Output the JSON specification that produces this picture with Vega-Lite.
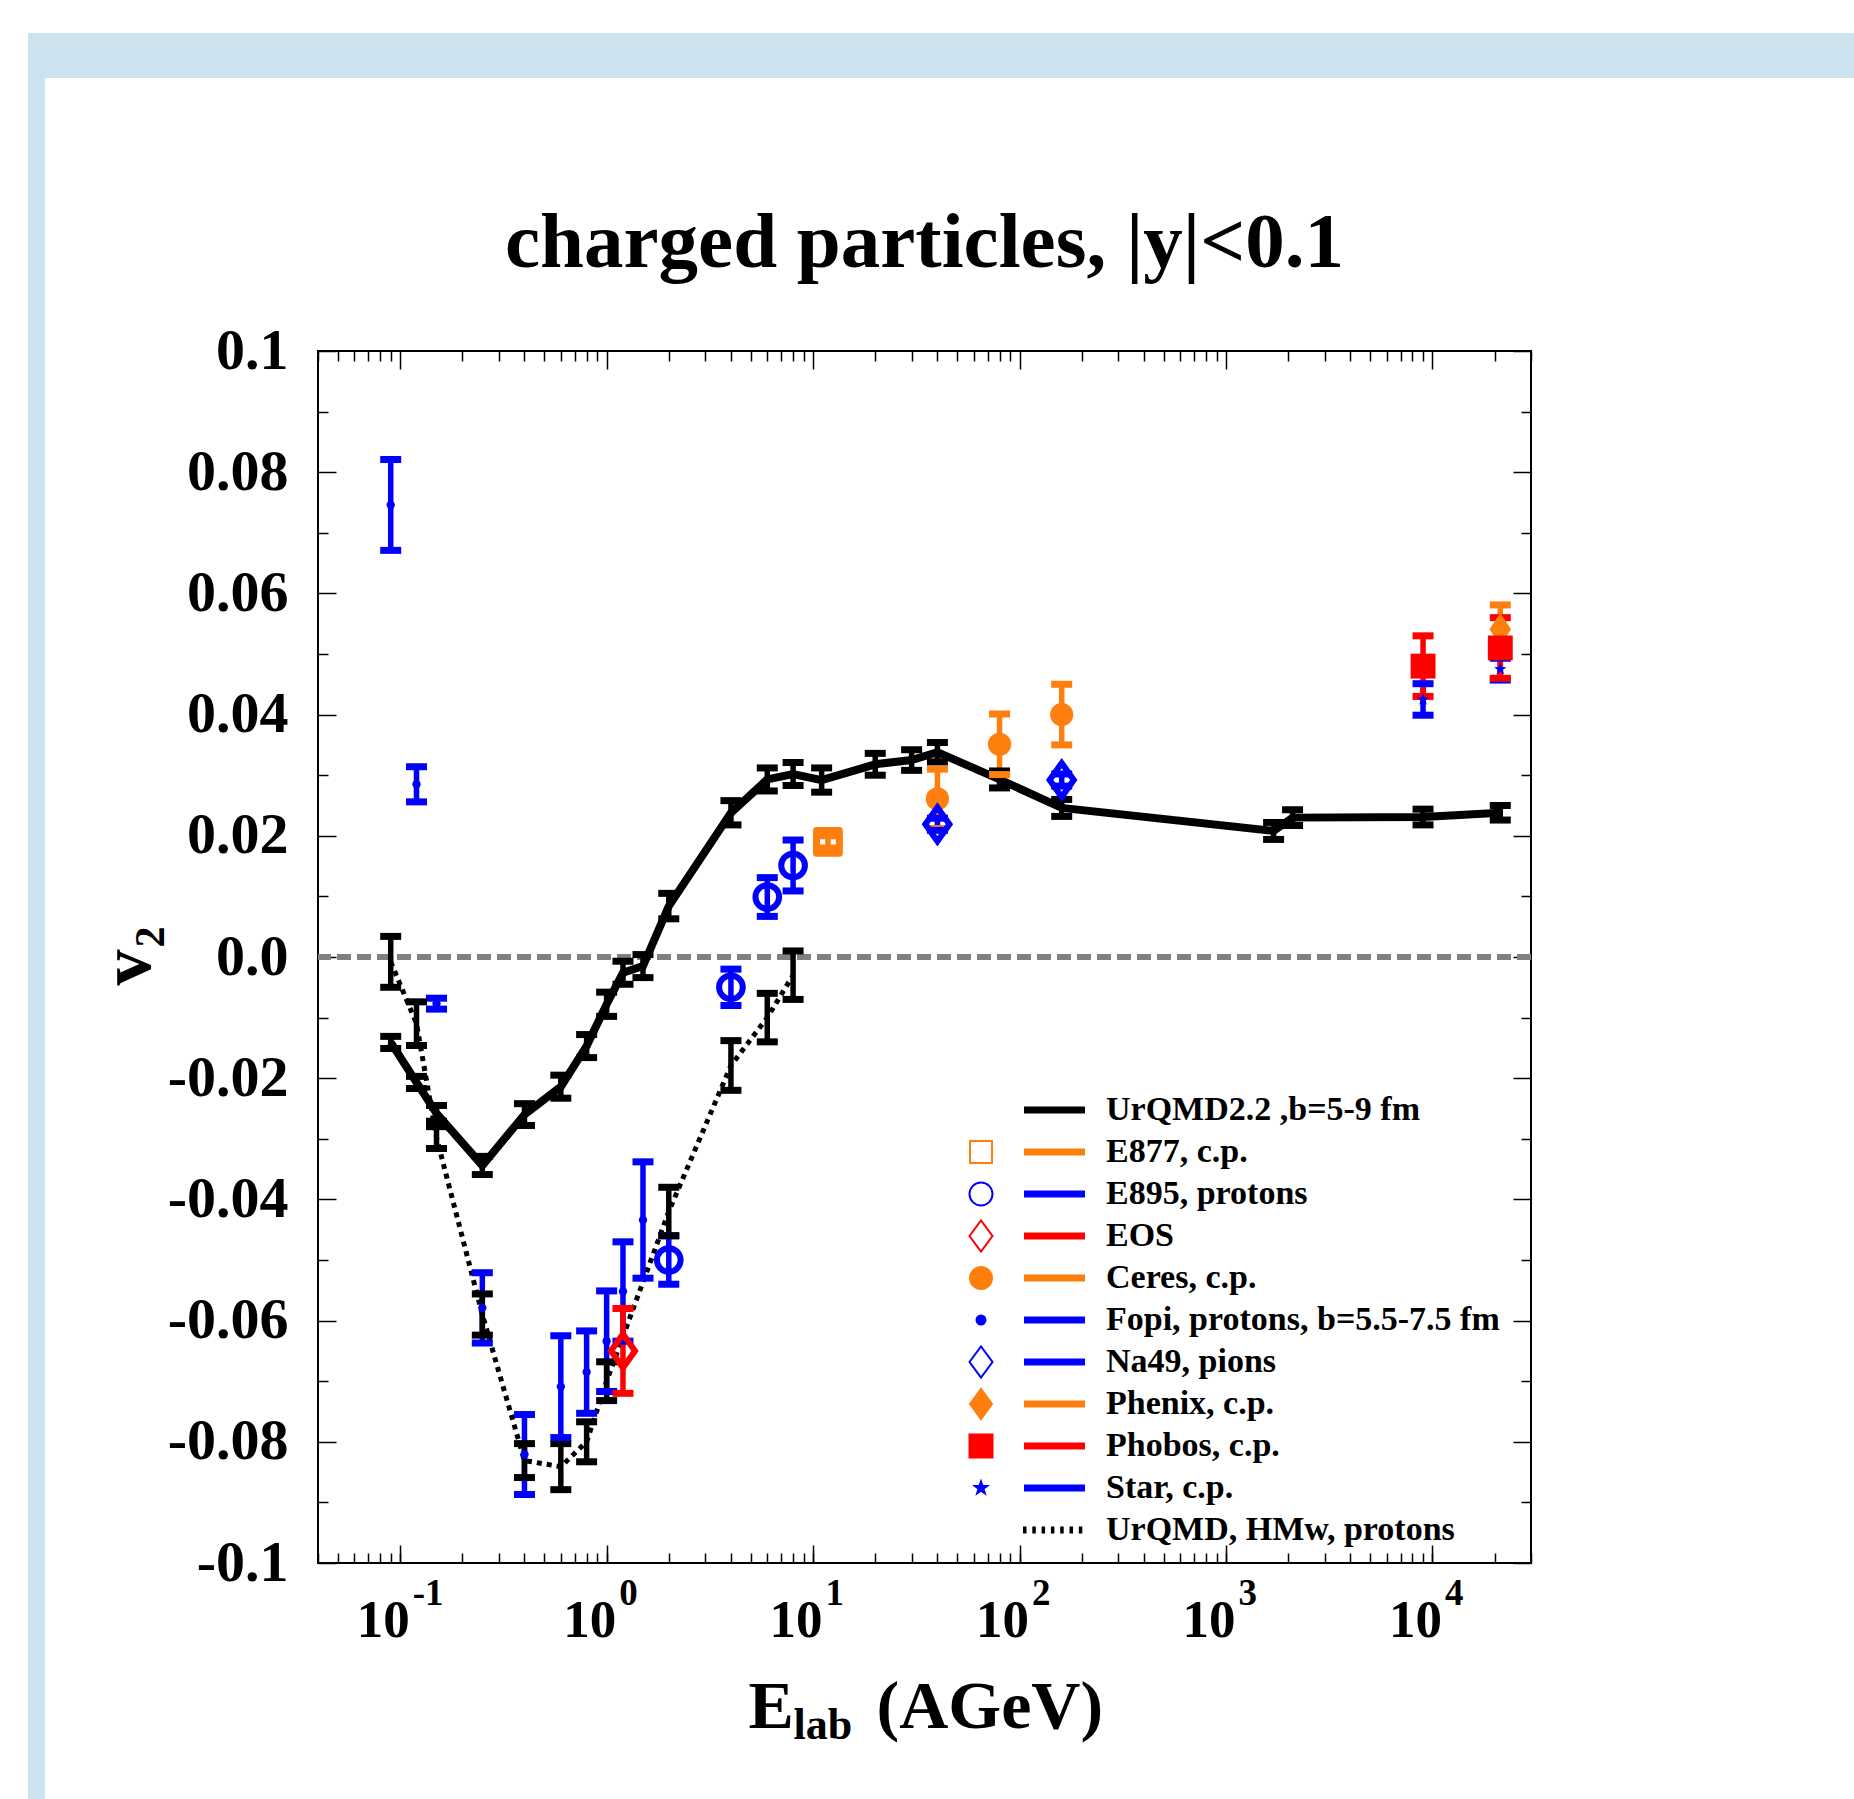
{
  "$schema": "https://vega.github.io/schema/vega-lite/v6.json",
  "background": "white",
  "padding": {"left": 28, "top": 33, "right": 0, "bottom": 0},
  "spacing": -1721,
  "align": "none",
  "resolve": {"scale": {"color": "independent", "fill": "independent", "stroke": "independent", "shape": "independent", "opacity": "independent"}},
  "config": {
    "view": {"stroke": null},
    "axis": {"grid": false, "domain": false, "tickColor": "black", "tickWidth": 1.5, "labelColor": "black", "titleColor": "black", "labelFont": "Liberation Serif", "titleFont": "Liberation Serif", "labelFontWeight": "bold", "titleFontWeight": "bold", "labelOverlap": false, "labelFlush": false, "titlePadding": 0}
  },
  "vconcat": [
    {
      "spacing": 0,
      "hconcat": [
        {"width": 17, "height": 1766, "data": {"values": []}, "mark": "point", "view": {"fill": "#cde2ef", "stroke": null}},
        {"width": 1809, "height": 45, "data": {"values": []}, "mark": "point", "view": {"fill": "#cde2ef", "stroke": null}}
      ]
    },
    {
      "spacing": 0,
      "resolve": {"scale": {"color": "independent", "fill": "independent", "stroke": "independent", "shape": "independent", "opacity": "independent"}},
      "hconcat": [
        {"width": 17, "height": 1, "data": {"values": []}, "mark": "point", "view": {"stroke": null}},
        {
          "width": 1213,
          "height": 1212,
          "view": {"fill": "white", "stroke": "black", "strokeWidth": 2},
          "title": {"text": "charged particles, |y|<0.1", "font": "Liberation Serif", "fontSize": 79, "fontWeight": "bold", "color": "black", "anchor": "middle", "frame": "group", "baseline": "alphabetic", "offset": -267},
          "data": {"values": [
            {"s": "Fopi, protons, b=5.5-7.5 fm", "E": 0.09, "v": 0.0746, "lo": 0.0671, "hi": 0.0821},
            {"s": "Fopi, protons, b=5.5-7.5 fm", "E": 0.12, "v": 0.0285, "lo": 0.0256, "hi": 0.0314},
            {"s": "Fopi, protons, b=5.5-7.5 fm", "E": 0.15, "v": -0.0077, "lo": -0.0086, "hi": -0.0068},
            {"s": "Fopi, protons, b=5.5-7.5 fm", "E": 0.25, "v": -0.0579, "lo": -0.0637, "hi": -0.0521},
            {"s": "Fopi, protons, b=5.5-7.5 fm", "E": 0.4, "v": -0.0821, "lo": -0.0887, "hi": -0.0755},
            {"s": "Fopi, protons, b=5.5-7.5 fm", "E": 0.6, "v": -0.0709, "lo": -0.0793, "hi": -0.0625},
            {"s": "Fopi, protons, b=5.5-7.5 fm", "E": 0.8, "v": -0.0685, "lo": -0.0753, "hi": -0.0617},
            {"s": "Fopi, protons, b=5.5-7.5 fm", "E": 1.0, "v": -0.0634, "lo": -0.0717, "hi": -0.0551},
            {"s": "Fopi, protons, b=5.5-7.5 fm", "E": 1.2, "v": -0.0552, "lo": -0.0634, "hi": -0.047},
            {"s": "Fopi, protons, b=5.5-7.5 fm", "E": 1.5, "v": -0.0434, "lo": -0.053, "hi": -0.0338},
            {"s": "E895, protons", "E": 2, "v": -0.05, "lo": -0.054, "hi": -0.046},
            {"s": "E895, protons", "E": 4, "v": -0.005, "lo": -0.008, "hi": -0.002},
            {"s": "E895, protons", "E": 6, "v": 0.0099, "lo": 0.0067, "hi": 0.0131},
            {"s": "E895, protons", "E": 8, "v": 0.0151, "lo": 0.0109, "hi": 0.0193},
            {"s": "EOS", "E": 1.2, "v": -0.065, "lo": -0.072, "hi": -0.058},
            {"s": "E877, c.p.", "E": 11.8, "v": 0.019, "lo": 0.018, "hi": 0.02},
            {"s": "Ceres, c.p.", "E": 40, "v": 0.0261, "lo": 0.0212, "hi": 0.031},
            {"s": "Ceres, c.p.", "E": 80, "v": 0.0351, "lo": 0.0301, "hi": 0.0401},
            {"s": "Ceres, c.p.", "E": 160, "v": 0.04, "lo": 0.035, "hi": 0.045},
            {"s": "Na49, pions", "E": 40, "v": 0.0219, "lo": 0.0209, "hi": 0.0229},
            {"s": "Na49, pions", "E": 160, "v": 0.0292, "lo": 0.0282, "hi": 0.0302},
            {"s": "Star, c.p.", "E": 9000, "v": 0.0425, "lo": 0.0399, "hi": 0.0451},
            {"s": "Star, c.p.", "E": 21300, "v": 0.0475, "lo": 0.0457, "hi": 0.0493},
            {"s": "Phobos, c.p.", "E": 9000, "v": 0.048, "lo": 0.043, "hi": 0.053},
            {"s": "Phobos, c.p.", "E": 21300, "v": 0.051, "lo": 0.046, "hi": 0.056},
            {"s": "Phenix, c.p.", "E": 21300, "v": 0.0541, "lo": 0.0501, "hi": 0.0581},
            {"s": "UrQMD, HMw, protons", "E": 0.09, "v": -0.0008, "lo": -0.005, "hi": 0.0034},
            {"s": "UrQMD, HMw, protons", "E": 0.12, "v": -0.011, "lo": -0.0146, "hi": -0.0074},
            {"s": "UrQMD, HMw, protons", "E": 0.15, "v": -0.0298, "lo": -0.0316, "hi": -0.028},
            {"s": "UrQMD, HMw, protons", "E": 0.25, "v": -0.059, "lo": -0.0624, "hi": -0.0556},
            {"s": "UrQMD, HMw, protons", "E": 0.4, "v": -0.0831, "lo": -0.0859, "hi": -0.0803},
            {"s": "UrQMD, HMw, protons", "E": 0.6, "v": -0.0841, "lo": -0.0879, "hi": -0.0803},
            {"s": "UrQMD, HMw, protons", "E": 0.8, "v": -0.08, "lo": -0.0833, "hi": -0.0767},
            {"s": "UrQMD, HMw, protons", "E": 1.0, "v": -0.07, "lo": -0.0732, "hi": -0.0668},
            {"s": "UrQMD, HMw, protons", "E": 2.0, "v": -0.042, "lo": -0.046, "hi": -0.038},
            {"s": "UrQMD, HMw, protons", "E": 4.0, "v": -0.0179, "lo": -0.022, "hi": -0.0138},
            {"s": "UrQMD, HMw, protons", "E": 6.0, "v": -0.01, "lo": -0.014, "hi": -0.006},
            {"s": "UrQMD, HMw, protons", "E": 8.0, "v": -0.003, "lo": -0.007, "hi": 0.001},
            {"s": "UrQMD2.2 ,b=5-9 fm", "E": 0.09, "v": -0.0141, "lo": -0.0151, "hi": -0.0131},
            {"s": "UrQMD2.2 ,b=5-9 fm", "E": 0.12, "v": -0.0207, "lo": -0.0217, "hi": -0.0197},
            {"s": "UrQMD2.2 ,b=5-9 fm", "E": 0.15, "v": -0.0258, "lo": -0.0271, "hi": -0.0245},
            {"s": "UrQMD2.2 ,b=5-9 fm", "E": 0.25, "v": -0.0344, "lo": -0.0359, "hi": -0.0329},
            {"s": "UrQMD2.2 ,b=5-9 fm", "E": 0.4, "v": -0.026, "lo": -0.0278, "hi": -0.0242},
            {"s": "UrQMD2.2 ,b=5-9 fm", "E": 0.6, "v": -0.0214, "lo": -0.0233, "hi": -0.0195},
            {"s": "UrQMD2.2 ,b=5-9 fm", "E": 0.8, "v": -0.0147, "lo": -0.0166, "hi": -0.0128},
            {"s": "UrQMD2.2 ,b=5-9 fm", "E": 1.0, "v": -0.0078, "lo": -0.0098, "hi": -0.0058},
            {"s": "UrQMD2.2 ,b=5-9 fm", "E": 1.2, "v": -0.0026, "lo": -0.0045, "hi": -0.0007},
            {"s": "UrQMD2.2 ,b=5-9 fm", "E": 1.5, "v": -0.0015, "lo": -0.0034, "hi": 0.0004},
            {"s": "UrQMD2.2 ,b=5-9 fm", "E": 2.0, "v": 0.0084, "lo": 0.0063, "hi": 0.0105},
            {"s": "UrQMD2.2 ,b=5-9 fm", "E": 4.0, "v": 0.0238, "lo": 0.0218, "hi": 0.0258},
            {"s": "UrQMD2.2 ,b=5-9 fm", "E": 6.0, "v": 0.0293, "lo": 0.0274, "hi": 0.0312},
            {"s": "UrQMD2.2 ,b=5-9 fm", "E": 8.0, "v": 0.0302, "lo": 0.0283, "hi": 0.0321},
            {"s": "UrQMD2.2 ,b=5-9 fm", "E": 11, "v": 0.0292, "lo": 0.0272, "hi": 0.0312},
            {"s": "UrQMD2.2 ,b=5-9 fm", "E": 20, "v": 0.0318, "lo": 0.03, "hi": 0.0336},
            {"s": "UrQMD2.2 ,b=5-9 fm", "E": 30, "v": 0.0325, "lo": 0.0308, "hi": 0.0342},
            {"s": "UrQMD2.2 ,b=5-9 fm", "E": 40, "v": 0.0338, "lo": 0.0322, "hi": 0.0354},
            {"s": "UrQMD2.2 ,b=5-9 fm", "E": 80, "v": 0.0293, "lo": 0.0279, "hi": 0.0307},
            {"s": "UrQMD2.2 ,b=5-9 fm", "E": 160, "v": 0.0246, "lo": 0.0232, "hi": 0.026},
            {"s": "UrQMD2.2 ,b=5-9 fm", "E": 1700, "v": 0.0208, "lo": 0.0194, "hi": 0.0222},
            {"s": "UrQMD2.2 ,b=5-9 fm", "E": 2100, "v": 0.023, "lo": 0.0217, "hi": 0.0243},
            {"s": "UrQMD2.2 ,b=5-9 fm", "E": 9000, "v": 0.0231, "lo": 0.0218, "hi": 0.0244},
            {"s": "UrQMD2.2 ,b=5-9 fm", "E": 21300, "v": 0.0238, "lo": 0.0226, "hi": 0.025}
          ]},
          "resolve": {"axis": {"x": "independent", "y": "independent"}},
          "layer": [
            {
              "data": {"values": [{}]},
              "mark": {"type": "rule", "color": "#808080", "strokeWidth": 6, "strokeDash": [14, 6]},
              "encoding": {
                "y": {"datum": 0, "type": "quantitative", "scale": {"domain": [-0.1, 0.1], "nice": false, "zero": false},
                  "axis": {"orient": "left", "values": [-0.1, -0.08, -0.06, -0.04, -0.02, 0, 0.02, 0.04, 0.06, 0.08, 0.1], "tickSize": -18, "labelExpr": "datum.value == 0 ? '0.0' : replace(format(datum.value, '.2~f'), '\u2212', '-')", "labelFontSize": 58, "labelAlign": "right", "labelBaseline": "middle", "labelPadding": 48, "title": "v", "titleX": -169, "titleY": 634, "titleAngle": 270, "titleAlign": "left", "titleBaseline": "alphabetic", "titleFontSize": 72}}
              }
            },
            {
              "transform": [{"filter": {"field": "s", "equal": "UrQMD2.2 ,b=5-9 fm"}}],
              "mark": {"type": "line", "color": "black", "strokeWidth": 8},
              "encoding": {
                "x": {"field": "E", "type": "quantitative", "scale": {"type": "log", "domain": [0.04, 30000], "nice": false},
                  "axis": {"orient": "bottom", "values": [0.1, 1, 10, 100, 1000, 10000], "tickSize": -18, "labelExpr": "'10'", "labelFontSize": 53, "labelAlign": "right", "labelBaseline": "alphabetic", "labelPadding": 91, "labelOffset": 9, "title": "E", "titleX": 430, "titleY": 164, "titleAlign": "left", "titleBaseline": "alphabetic", "titleFontSize": 68, "titleAngle": 0}},
                "y": {"field": "v", "type": "quantitative", "scale": {"domain": [-0.1, 0.1], "nice": false, "zero": false},
                  "axis": {"orient": "left", "values": [-0.09, -0.07, -0.05, -0.03, -0.01, 0.01, 0.03, 0.05, 0.07, 0.09], "tickSize": -10, "labels": false, "title": ".", "titleX": -272, "titleY": -272, "titleAngle": 0, "titleAlign": "left", "titleBaseline": "top", "titleFontSize": 10, "titleColor": "white"}}
              }
            },
            {
              "transform": [{"filter": {"field": "s", "equal": "UrQMD, HMw, protons"}}],
              "mark": {"type": "line", "color": "black", "strokeWidth": 5, "strokeDash": [5, 5]},
              "encoding": {
                "x": {"field": "E", "type": "quantitative", "scale": {"type": "log", "domain": [0.04, 30000], "nice": false},
                  "axis": {"orient": "bottom", "values": [0.04, 0.05, 0.06, 0.07, 0.08, 0.09, 0.1, 0.2, 0.3, 0.4, 0.5, 0.6, 0.7, 0.8, 0.9, 1, 2, 3, 4, 5, 6, 7, 8, 9, 10, 20, 30, 40, 50, 60, 70, 80, 90, 100, 200, 300, 400, 500, 600, 700, 800, 900, 1000, 2000, 3000, 4000, 5000, 6000, 7000, 8000, 9000, 10000, 20000, 30000], "tickSize": -10, "labelExpr": "datum.value == 0.1 ? '-1' : datum.value == 1 ? '0' : datum.value == 10 ? '1' : datum.value == 100 ? '2' : datum.value == 1000 ? '3' : datum.value == 10000 ? '4' : ''", "labelFontSize": 37, "labelAlign": "left", "labelBaseline": "alphabetic", "labelPadding": 51, "labelOffset": 12, "title": "lab", "titleX": 475, "titleY": 175, "titleAlign": "left", "titleBaseline": "alphabetic", "titleFontSize": 44, "titleAngle": 0}},
                "y": {"field": "v", "type": "quantitative", "scale": {"domain": [-0.1, 0.1], "nice": false, "zero": false},
                  "axis": {"orient": "right", "values": [-0.1, -0.08, -0.06, -0.04, -0.02, 0, 0.02, 0.04, 0.06, 0.08, 0.1], "tickSize": -18, "labels": false, "title": "2", "titleX": -1368, "titleY": 596, "titleAngle": 270, "titleAlign": "left", "titleBaseline": "alphabetic", "titleFontSize": 42}}
              }
            },
            {
              "mark": {"type": "rule", "strokeWidth": 5.5},
              "encoding": {
                "x": {"field": "E", "type": "quantitative", "scale": {"type": "log", "domain": [0.04, 30000], "nice": false},
                  "axis": {"orient": "top", "values": [0.1, 1, 10, 100, 1000, 10000], "tickSize": -18, "labels": false, "title": "(AGeV)", "titleX": 558, "titleY": 1376, "titleAlign": "left", "titleBaseline": "alphabetic", "titleFontSize": 68, "titleAngle": 0}},
                "y": {"field": "lo", "type": "quantitative", "scale": {"domain": [-0.1, 0.1], "nice": false, "zero": false},
                  "axis": {"orient": "right", "values": [-0.09, -0.07, -0.05, -0.03, -0.01, 0.01, 0.03, 0.05, 0.07, 0.09], "tickSize": -10, "labels": false, "title": null}},
                "y2": {"field": "hi"},
                "color": {"field": "s", "type": "nominal", "legend": null, "scale": {"domain": ["UrQMD, HMw, protons", "Star, c.p.", "Phobos, c.p.", "Phenix, c.p.", "Na49, pions", "Fopi, protons, b=5.5-7.5 fm", "Ceres, c.p.", "EOS", "E895, protons", "E877, c.p.", "UrQMD2.2 ,b=5-9 fm"], "range": ["black", "#0000ff", "#ff0000", "#ff7f0e", "#0000ff", "#0000ff", "#ff7f0e", "#ff0000", "#0000ff", "#ff7f0e", "black"]}}
              }
            },
            {
              "mark": {"type": "tick", "orient": "horizontal", "size": 21, "thickness": 7, "opacity": 1},
              "encoding": {
                "x": {"field": "E", "type": "quantitative", "scale": {"type": "log", "domain": [0.04, 30000], "nice": false},
                  "axis": {"orient": "top", "values": [0.04, 0.05, 0.06, 0.07, 0.08, 0.09, 0.2, 0.3, 0.4, 0.5, 0.6, 0.7, 0.8, 0.9, 2, 3, 4, 5, 6, 7, 8, 9, 20, 30, 40, 50, 60, 70, 80, 90, 200, 300, 400, 500, 600, 700, 800, 900, 2000, 3000, 4000, 5000, 6000, 7000, 8000, 9000, 20000, 30000], "tickSize": -10, "labels": false, "title": null}},
                "y": {"field": "hi", "type": "quantitative", "scale": {"domain": [-0.1, 0.1], "nice": false, "zero": false}, "axis": null},
                "color": {"field": "s", "type": "nominal", "legend": null}
              }
            },
            {
              "mark": {"type": "tick", "orient": "horizontal", "size": 21, "thickness": 7, "opacity": 1},
              "encoding": {
                "x": {"field": "E", "type": "quantitative", "scale": {"type": "log", "domain": [0.04, 30000], "nice": false}, "axis": null},
                "y": {"field": "lo", "type": "quantitative", "scale": {"domain": [-0.1, 0.1], "nice": false, "zero": false}, "axis": null},
                "color": {"field": "s", "type": "nominal", "legend": null}
              }
            },
            {
              "transform": [{"filter": {"field": "s", "equal": "E895, protons"}}],
              "mark": {"type": "point", "shape": "circle", "filled": false, "color": "#0000ff", "strokeWidth": 6, "size": 560, "opacity": 1},
              "encoding": {"x": {"field": "E", "type": "quantitative", "axis": null}, "y": {"field": "v", "type": "quantitative", "axis": null}}
            },
            {
              "transform": [{"filter": {"field": "s", "equal": "E877, c.p."}}],
              "mark": {"type": "point", "shape": "square", "filled": false, "color": "#ff7f0e", "strokeWidth": 7, "strokeJoin": "round", "size": 520, "opacity": 1},
              "encoding": {"x": {"field": "E", "type": "quantitative", "axis": null}, "y": {"field": "v", "type": "quantitative", "axis": null}}
            },
            {
              "transform": [{"filter": {"field": "s", "equal": "Ceres, c.p."}}],
              "mark": {"type": "point", "shape": "circle", "filled": true, "color": "#ff7f0e", "strokeWidth": 0, "size": 540, "opacity": 1},
              "encoding": {"x": {"field": "E", "type": "quantitative", "axis": null}, "y": {"field": "v", "type": "quantitative", "axis": null}}
            },
            {
              "transform": [{"filter": {"field": "s", "equal": "Na49, pions"}}],
              "mark": {"type": "point", "shape": "M-0.71,0L0,-1L0.71,0L0,1Z", "filled": false, "color": "#0000ff", "strokeWidth": 6, "size": 1150, "opacity": 1},
              "encoding": {"x": {"field": "E", "type": "quantitative", "axis": null}, "y": {"field": "v", "type": "quantitative", "axis": null}}
            },
            {
              "transform": [{"filter": {"field": "s", "equal": "Star, c.p."}}],
              "mark": {"type": "point", "shape": "M0,-1L0.235,-0.324L0.951,-0.309L0.38,0.124L0.588,0.809L0,0.4L-0.588,0.809L-0.38,0.124L-0.951,-0.309L-0.235,-0.324Z", "filled": true, "color": "#0000ff", "strokeWidth": 0, "size": 170, "opacity": 1},
              "encoding": {"x": {"field": "E", "type": "quantitative", "axis": null}, "y": {"field": "v", "type": "quantitative", "axis": null}}
            },
            {
              "transform": [{"filter": {"field": "s", "equal": "Phenix, c.p."}}],
              "mark": {"type": "point", "shape": "M-0.67,0L0,-1L0.67,0L0,1Z", "filled": true, "color": "#ff7f0e", "strokeWidth": 0, "size": 1050, "opacity": 1},
              "encoding": {"x": {"field": "E", "type": "quantitative", "axis": null}, "y": {"field": "v", "type": "quantitative", "axis": null}}
            },
            {
              "transform": [{"filter": {"field": "s", "equal": "Phobos, c.p."}}],
              "mark": {"type": "point", "shape": "square", "filled": true, "color": "#ff0000", "strokeWidth": 0, "size": 620, "opacity": 1},
              "encoding": {"x": {"field": "E", "type": "quantitative", "axis": null}, "y": {"field": "v", "type": "quantitative", "axis": null}}
            },
            {
              "transform": [{"filter": {"field": "s", "equal": "EOS"}}],
              "mark": {"type": "point", "shape": "M-0.71,0L0,-1L0.71,0L0,1Z", "filled": false, "color": "#ff0000", "strokeWidth": 6, "size": 1150, "opacity": 1},
              "encoding": {"x": {"field": "E", "type": "quantitative", "axis": null}, "y": {"field": "v", "type": "quantitative", "axis": null}}
            },
            {
              "transform": [{"filter": {"field": "s", "equal": "Fopi, protons, b=5.5-7.5 fm"}}],
              "mark": {"type": "point", "shape": "circle", "filled": true, "color": "#0000ff", "strokeWidth": 0, "size": 70, "opacity": 1},
              "encoding": {"x": {"field": "E", "type": "quantitative", "axis": null}, "y": {"field": "v", "type": "quantitative", "axis": null}}
            },
            {
              "data": {"values": [
                {"s": "UrQMD2.2 ,b=5-9 fm"}, {"s": "E877, c.p."}, {"s": "E895, protons"}, {"s": "EOS"}, {"s": "Ceres, c.p."}, {"s": "Fopi, protons, b=5.5-7.5 fm"}, {"s": "Na49, pions"}, {"s": "Phenix, c.p."}, {"s": "Phobos, c.p."}, {"s": "Star, c.p."}, {"s": "UrQMD, HMw, protons"}
              ]},
              "mark": {"type": "point", "filled": true, "size": 4},
              "encoding": {
                "opacity": {"value": 0},
                "shape": {"field": "s", "type": "nominal",
                  "scale": {"domain": ["UrQMD2.2 ,b=5-9 fm", "E877, c.p.", "E895, protons", "EOS", "Ceres, c.p.", "Fopi, protons, b=5.5-7.5 fm", "Na49, pions", "Phenix, c.p.", "Phobos, c.p.", "Star, c.p.", "UrQMD, HMw, protons"],
                    "range": [
                      "M-14,-16.5M110,16.5M43,-2.5H104M43,-0.83H104M43,0.83H104M43,2.5H104",
                      "M-14,-16.5M110,16.5M-11,-11H11V11H-11ZM43,-2.5H104M43,-0.83H104M43,0.83H104M43,2.5H104",
                      "M-14,-16.5M110,16.5M-11.5,0A11.5,11.5,0,1,1,11.5,0A11.5,11.5,0,1,1,-11.5,0ZM43,-2.5H104M43,-0.83H104M43,0.83H104M43,2.5H104",
                      "M-14,-16.5M110,16.5M-11.5,0L0,-15.5L11.5,0L0,15.5ZM43,-2.5H104M43,-0.83H104M43,0.83H104M43,2.5H104",
                      "M-14,-16.5M110,16.5M-11,0A11,11,0,1,1,11,0A11,11,0,1,1,-11,0ZM43,-2.5H104M43,-0.83H104M43,0.83H104M43,2.5H104",
                      "M-14,-16.5M110,16.5M-4.5,0A4.5,4.5,0,1,1,4.5,0A4.5,4.5,0,1,1,-4.5,0ZM43,-2.5H104M43,-0.83H104M43,0.83H104M43,2.5H104",
                      "M-14,-16.5M110,16.5M-11.5,0L0,-15.5L11.5,0L0,15.5ZM43,-2.5H104M43,-0.83H104M43,0.83H104M43,2.5H104",
                      "M-14,-16.5M110,16.5M-11,0L0,-15L11,0L0,15ZM43,-2.5H104M43,-0.83H104M43,0.83H104M43,2.5H104",
                      "M-14,-16.5M110,16.5M-11.5,-11.5H11.5V11.5H-11.5ZM43,-2.5H104M43,-0.83H104M43,0.83H104M43,2.5H104",
                      "M-14,-16.5M110,16.5M0,-6.5L1.53,-2.11L6.18,-2.01L2.47,0.81L3.82,5.26L0,2.6L-3.82,5.26L-2.47,0.81L-6.18,-2.01L-1.53,-2.11ZM43,-2.5H104M43,-0.83H104M43,0.83H104M43,2.5H104",
                      "M-14,-16.5M110,16.5M43,-2.5h1.5v5h-1.5ZM52.3,-2.5h1.5v5h-1.5ZM61.6,-2.5h1.5v5h-1.5ZM70.9,-2.5h1.5v5h-1.5ZM80.2,-2.5h1.5v5h-1.5ZM89.5,-2.5h1.5v5h-1.5ZM98.8,-2.5h1.5v5h-1.5Z"
                    ]},
                  "legend": {"orient": "none", "legendX": 646, "legendY": 742, "title": null, "padding": 0, "rowPadding": 0, "symbolSize": 4, "symbolStrokeWidth": 2, "symbolOpacity": 1, "symbolFillColor": "white", "symbolStrokeColor": "black", "labelFont": "Liberation Serif", "labelFontSize": 34, "labelFontWeight": "bold", "labelColor": "black", "labelOffset": 108, "labelLimit": 1000}},
                "fill": {"field": "s", "type": "nominal",
                  "scale": {"domain": ["UrQMD2.2 ,b=5-9 fm", "E877, c.p.", "E895, protons", "EOS", "Ceres, c.p.", "Fopi, protons, b=5.5-7.5 fm", "Na49, pions", "Phenix, c.p.", "Phobos, c.p.", "Star, c.p.", "UrQMD, HMw, protons"],
                    "range": ["black", "white", "white", "white", "#ff7f0e", "#0000ff", "white", "#ff7f0e", "#ff0000", "#0000ff", "black"]},
                  "legend": {"orient": "none", "legendX": 646, "legendY": 742, "title": null, "padding": 0, "rowPadding": 0, "symbolSize": 4, "symbolStrokeWidth": 2, "symbolOpacity": 1, "symbolFillColor": "white", "symbolStrokeColor": "black", "labelFont": "Liberation Serif", "labelFontSize": 34, "labelFontWeight": "bold", "labelColor": "black", "labelOffset": 108, "labelLimit": 1000}},
                "stroke": {"field": "s", "type": "nominal",
                  "scale": {"domain": ["UrQMD2.2 ,b=5-9 fm", "E877, c.p.", "E895, protons", "EOS", "Ceres, c.p.", "Fopi, protons, b=5.5-7.5 fm", "Na49, pions", "Phenix, c.p.", "Phobos, c.p.", "Star, c.p.", "UrQMD, HMw, protons"],
                    "range": ["black", "#ff7f0e", "#0000ff", "#ff0000", "#ff7f0e", "#0000ff", "#0000ff", "#ff7f0e", "#ff0000", "#0000ff", "black"]},
                  "legend": {"orient": "none", "legendX": 646, "legendY": 742, "title": null, "padding": 0, "rowPadding": 0, "symbolSize": 4, "symbolStrokeWidth": 2, "symbolOpacity": 1, "symbolFillColor": "white", "symbolStrokeColor": "black", "labelFont": "Liberation Serif", "labelFontSize": 34, "labelFontWeight": "bold", "labelColor": "black", "labelOffset": 108, "labelLimit": 1000}}
              }
            }
          ]
        }
      ]
    }
  ]
}
